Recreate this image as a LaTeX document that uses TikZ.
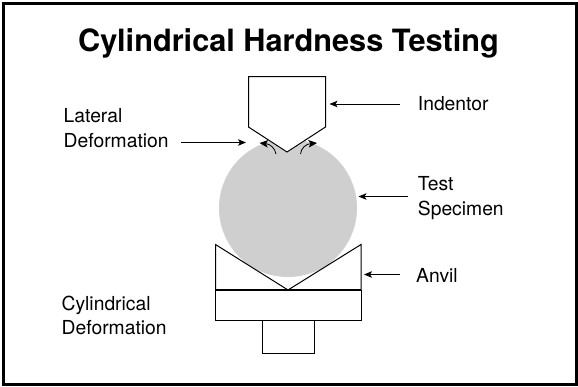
\documentclass[tikz,border=0pt]{standalone}
\usepackage{fontspec}
\setmainfont{TeX Gyre Heros}
\usetikzlibrary{arrows.meta}
\definecolor{specimen}{HTML}{CFCFCF}
\tikzset{
  lbl/.style={inner sep=0pt,align=left,anchor=west,font=\fontsize{19.3}{24.5}\selectfont},
  pointer/.style={draw=black,line width=0.8pt,-{Stealth[length=8pt,width=6.5pt,inset=2pt]}},
  flow/.style={draw=black,line width=0.8pt,-{Stealth[length=8.5pt,width=7.5pt,inset=2pt]}}
}
\begin{document}
\begin{tikzpicture}[x=1pt,y=-1pt]
\useasboundingbox (0,0) rectangle (578,386);
\fill[white] (0,0) rectangle (578,386);
\draw[line width=2.6pt] (3.4,3.6) rectangle (576.3,384.3);
\node[inner sep=0pt,font=\bfseries\fontsize{30.7}{36}\selectfont] (title) at (288.5,43) {Cylindrical Hardness Testing};
% specimen
\fill[specimen] (288,208) circle [radius=69];
% indentor
\fill[white] (248.5,127.7) -- (287,152.7) -- (325.5,127.7) -- (325.5,120) -- (248.5,120) -- cycle;
\draw[line width=1pt,line join=miter] (248.5,76.5) -- (325.5,76.5) -- (325.5,127) -- (287,152) -- (248.5,127) -- cycle;
% anvil
\fill[white] (215.5,244.5) -- (288,290) -- (361,244.5) -- (361,290) -- (215.5,290) -- cycle;
\draw[line width=1pt] (215.5,290) -- (215.5,244.5) -- (288,290) -- (361,244.5) -- (361,290);
\draw[line width=1.3pt] (215.5,290) -- (361,290);
\draw[line width=1pt] (215.5,290) rectangle (361,320);
\draw[line width=1pt] (262,320.5) rectangle (314.5,353);
% labels
\node[lbl] (ind) at (417.7,104) {Indentor};
\node[lbl] (lat) at (63.5,128) {Lateral\\Deformation};
\node[lbl] (test) at (417.7,198) {Test\\Specimen};
\node[lbl] (anv) at (416,275) {Anvil};
\node[lbl] (cyl) at (61.5,315.5) {Cylindrical\\Deformation};
% pointers
\coordinate (a1s) at (400,104); \coordinate (a1e) at (329.5,104);
\coordinate (a2s) at (181,142.5); \coordinate (a2e) at (246,142.5);
\coordinate (a3s) at (408,196.5); \coordinate (a3e) at (358.5,196.5);
\coordinate (a4s) at (400,274.5); \coordinate (a4e) at (364,274.5);
\draw[pointer] (a1s) -- (a1e);
\draw[pointer] (a2s) -- (a2e);
\draw[pointer] (a3s) -- (a3e);
\draw[pointer] (a4s) -- (a4e);
% small arrows
\coordinate (b1s) at (276,154); \coordinate (b1e) at (259.5,143);
\coordinate (b2s) at (300.5,154); \coordinate (b2e) at (317,143);
\draw[flow] (b1s) .. controls (275,148) and (270,144) .. (b1e);
\draw[flow] (b2s) .. controls (301,148) and (306,144) .. (b2e);
\end{tikzpicture}
\end{document}
